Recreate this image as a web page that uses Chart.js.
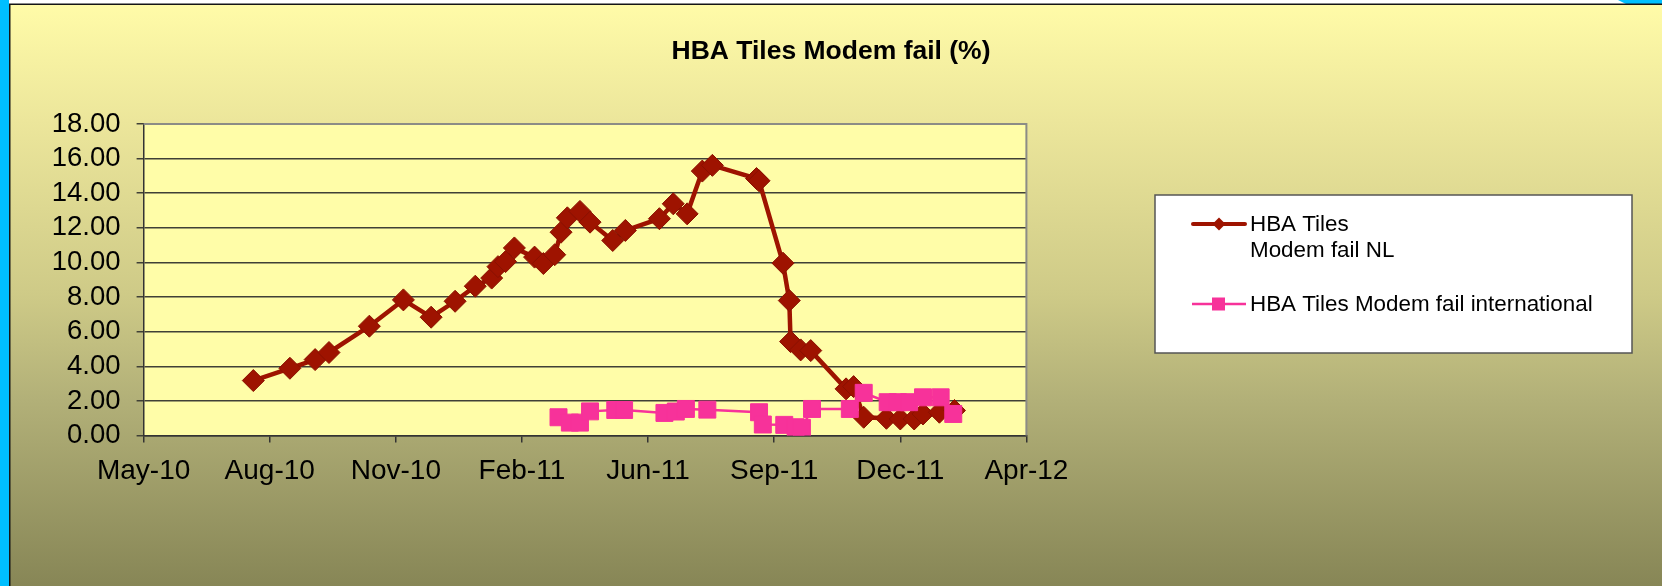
<!DOCTYPE html>
<html><head><meta charset="utf-8">
<script src="https://cdn.jsdelivr.net/npm/chart.js@4.4.1/dist/chart.umd.min.js"></script>
<style>html,body{margin:0;padding:0;background:#fff;overflow:hidden}#wrap{width:1662px;height:586px;position:relative}canvas{display:block}</style>
</head><body><div id="wrap"><canvas id="c" width="1662" height="586"></canvas></div>
<script>
const chartTitle = 'HBA Tiles Modem fail (%)';
const nlLabel = 'HBA Tiles\nModem fail NL';
const intlLabel = 'HBA Tiles Modem fail international';

const nlDates = ['2010-07-28','2010-08-26','2010-09-15','2010-09-26','2010-10-28','2010-11-24','2010-12-16','2011-01-04','2011-01-20','2011-02-02','2011-02-07','2011-02-13','2011-02-20','2011-03-08','2011-03-15','2011-03-24','2011-03-29','2011-04-03','2011-04-13','2011-04-21','2011-05-09','2011-05-19','2011-06-15','2011-06-26','2011-07-07','2011-07-19','2011-07-27','2011-08-31','2011-09-02','2011-09-21','2011-09-26','2011-09-27','2011-10-05','2011-10-13','2011-11-10','2011-11-16','2011-11-24','2011-12-12','2011-12-23','2012-01-03','2012-01-10','2012-01-23','2012-02-04'];
const nlValues = [3.18,3.89,4.39,4.80,6.32,7.84,6.84,7.76,8.63,9.10,9.76,10.05,10.84,10.31,9.94,10.45,11.75,12.58,12.95,12.33,11.27,11.85,12.53,13.39,12.81,15.28,15.61,14.85,14.72,9.96,7.80,5.43,4.95,4.91,2.70,2.83,1.06,1.00,0.96,0.96,1.25,1.35,1.45];

const intlDates = ['2011-03-27','2011-04-05','2011-04-13','2011-04-21','2011-05-11','2011-05-18','2011-06-19','2011-06-28','2011-07-06','2011-07-23','2011-09-02','2011-09-05','2011-09-22','2011-10-01','2011-10-06','2011-10-14','2011-11-13','2011-11-24','2011-12-13','2011-12-21','2011-12-30','2012-01-10','2012-01-24','2012-02-03'];
const intlValues = [1.06,0.75,0.75,1.40,1.48,1.48,1.31,1.39,1.54,1.50,1.35,0.64,0.62,0.48,0.45,1.54,1.54,2.47,1.93,1.93,1.93,2.21,2.21,1.25];

const xTickLabels = ['May-10','Aug-10','Nov-10','Feb-11','Jun-11','Sep-11','Dec-11','Apr-12'];
const yTickLabels = ['0.00','2.00','4.00','6.00','8.00','10.00','12.00','14.00','16.00','18.00'];

const FONT = "'Liberation Sans', Arial, sans-serif";
const NL_COLOR = '#9E1300';
const INTL_COLOR = '#F7329A';

// Excel-style day serials
const toSerial = s => { const [y,m,d] = s.split('-').map(Number); return Date.UTC(y, m-1, d)/86400000 + 25569; };
const toPoints = (dates, vals) => dates.map((d,i) => ({x: toSerial(d), y: vals[i]}));

const W = 1662, H = 586;
const AREA = {left: 143.6, right: 1026.4, top: 124, bottom: 435.6};

const framePlugin = {
  id: 'frame',
  beforeDraw(chart) {
    const c = chart.ctx;
    c.save();
    c.fillStyle = '#ffffff';
    c.fillRect(0, 0, W, H);
    const g = c.createLinearGradient(0, 5, 0, H);
    g.addColorStop(0, '#FFFBA8');
    g.addColorStop(0.2, '#ECE69B');
    g.addColorStop(0.5, '#CECA87');
    g.addColorStop(0.68, '#B2B078');
    g.addColorStop(1, '#878656');
    c.fillStyle = g;
    c.fillRect(10, 5, W - 10, H - 5);
    c.fillStyle = '#00BFFF';
    c.fillRect(0, 0, 9, H);
    c.beginPath(); c.moveTo(1618, 0); c.lineTo(W, 0); c.lineTo(W, 4); c.lineTo(1626, 4); c.closePath(); c.fill();
    c.fillStyle = '#151515';
    c.fillRect(9, 4, 1.5, H - 4);
    c.fillRect(9, 3.5, W - 9, 1.5);
    const a = chart.chartArea;
    c.fillStyle = '#FFFDA8';
    c.fillRect(a.left, a.top, a.right - a.left, a.bottom - a.top);
    c.restore();
  },
  beforeDatasetsDraw(chart) {
    const c = chart.ctx, a = chart.chartArea;
    c.save();
    c.strokeStyle = '#8C8C86';
    c.lineWidth = 2;
    c.beginPath();
    c.moveTo(a.left, a.top); c.lineTo(a.right, a.top); c.lineTo(a.right, a.bottom);
    c.stroke();
    c.restore();
  },
  afterDraw(chart) {
    const c = chart.ctx;
    c.save();
    // title
    c.fillStyle = '#000';
    c.font = 'bold 26.5px ' + FONT;
    c.textAlign = 'center';
    c.textBaseline = 'middle';
    c.fillText(chartTitle, 831, 52);
    // legend
    const bx = 1155, by = 195, bw = 477, bh = 158;
    c.fillStyle = '#ffffff';
    c.fillRect(bx, by, bw, bh);
    c.strokeStyle = '#555';
    c.lineWidth = 1.5;
    c.strokeRect(bx, by, bw, bh);
    const ds = chart.data.datasets;
    const nl = ds.find(d => d.key === 'nl');
    const intl = ds.find(d => d.key === 'intl');
    c.font = '22.4px ' + FONT;
    c.textAlign = 'left';
    c.textBaseline = 'middle';
    // NL entry
    let y = 224;
    c.strokeStyle = nl.borderColor; c.lineWidth = 4; c.lineCap = 'round';
    c.beginPath(); c.moveTo(1193, y); c.lineTo(1245, y); c.stroke();
    c.fillStyle = nl.borderColor;
    c.beginPath(); c.moveTo(1219 - 6.5, y); c.lineTo(1219, y - 6.5); c.lineTo(1219 + 6.5, y); c.lineTo(1219, y + 6.5); c.closePath(); c.fill();
    c.fillStyle = '#000';
    nl.label.split('\n').forEach((t, i) => c.fillText(t, 1250, y + 1 + i * 26));
    // intl entry
    y = 304;
    c.strokeStyle = intl.borderColor; c.lineWidth = 2.5; c.lineCap = 'butt';
    c.beginPath(); c.moveTo(1192, y); c.lineTo(1246, y); c.stroke();
    c.fillStyle = intl.borderColor;
    c.fillRect(1212, y - 6.5, 13, 13);
    c.fillStyle = '#000';
    c.fillText(intl.label, 1250, y + 1);
    c.restore();
  }
};

new Chart(document.getElementById('c'), {
  type: 'line',
  data: {
    datasets: [
      {
        key: 'nl', label: nlLabel, order: 1,
        data: toPoints(nlDates, nlValues),
        borderColor: NL_COLOR, backgroundColor: NL_COLOR,
        borderWidth: 4.5, tension: 0,
        pointStyle: 'rectRot', pointRadius: 11, pointBorderWidth: 1,
        pointBackgroundColor: NL_COLOR, pointBorderColor: '#8A1100'
      },
      {
        key: 'intl', label: intlLabel, order: 0,
        data: toPoints(intlDates, intlValues),
        borderColor: INTL_COLOR, backgroundColor: INTL_COLOR,
        borderWidth: 2.5, tension: 0,
        pointStyle: 'rect', pointRadius: 12, pointBorderWidth: 1,
        pointBackgroundColor: INTL_COLOR, pointBorderColor: INTL_COLOR
      }
    ]
  },
  options: {
    responsive: false, animation: false, devicePixelRatio: 1,
    layout: {padding: {left: 10, top: AREA.top, right: W - AREA.right, bottom: 0}},
    plugins: {legend: {display: false}, title: {display: false}, tooltip: {enabled: false}},
    scales: {
      x: {
        type: 'linear', min: 40300, max: 41000,
        ticks: {stepSize: 100, autoSkip: false, maxRotation: 0, minRotation: 0,
          callback: (v, i) => xTickLabels[i], color: '#000', padding: 12,
          font: {family: FONT, size: 28}},
        grid: {drawOnChartArea: false, drawTicks: true, tickLength: 7, color: '#333', lineWidth: 1.5},
        border: {display: true, color: '#333', width: 1.5},
        afterFit: s => { s.height = H - AREA.bottom; s.paddingLeft = 0; s.paddingRight = 0; }
      },
      y: {
        min: 0, max: 18,
        ticks: {stepSize: 2, autoSkip: false, callback: (v, i) => yTickLabels[i], color: '#000', padding: 16,
          font: {family: FONT, size: 27.5}},
        grid: {color: '#404036', lineWidth: 1.5, tickLength: 7, drawTicks: true},
        border: {display: true, color: '#333', width: 1.5},
        afterFit: s => { s.width = AREA.left - 10; s.paddingTop = 0; s.paddingBottom = 0; }
      }
    }
  },
  plugins: [framePlugin]
});
</script>
</body></html>
